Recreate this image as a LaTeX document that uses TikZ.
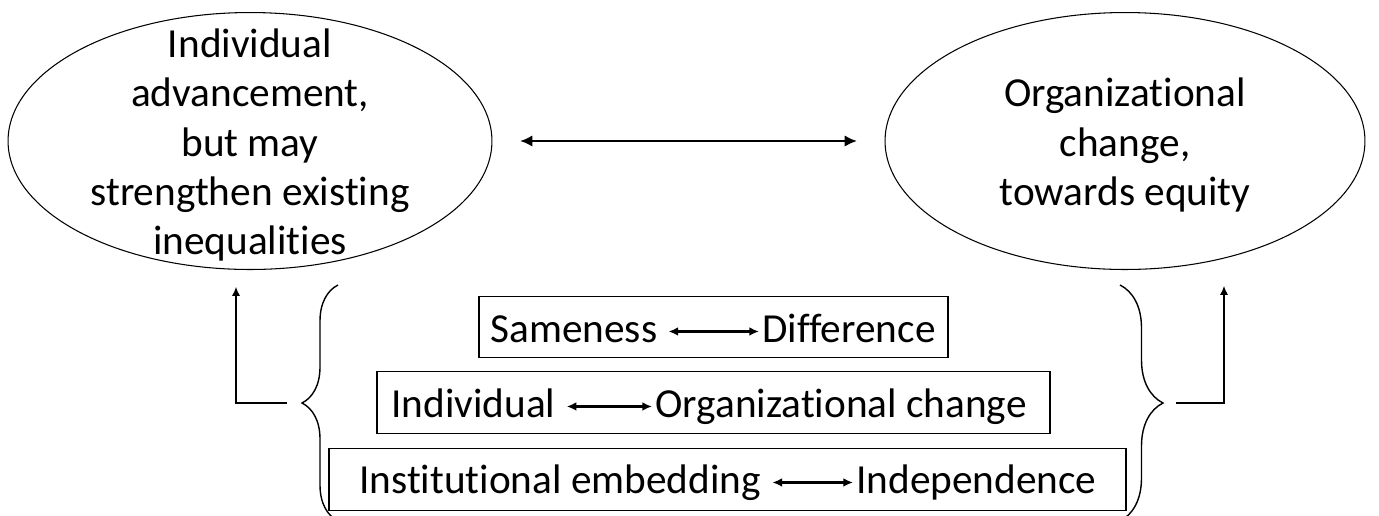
\documentclass[tikz,border=0pt]{standalone}
\usepackage{fontspec}
\setmainfont{Carlito}[Ligatures={NoCommon}]
\usetikzlibrary{arrows.meta,shapes.geometric,decorations.pathreplacing}
\begin{document}
\begin{tikzpicture}[x=0.02cm,y=-0.02cm,
    oval/.style={draw,ellipse,line width=0.6pt,inner sep=0pt,minimum width=#1,minimum height=5.14cm},
    txt/.style={align=center,inner sep=0pt,font=\fontsize{23.5}{28}\selectfont},
    bar/.style={draw,line width=0.7pt,minimum height=1.23cm},
    word/.style={inner sep=0pt,anchor=base west,text height=12pt,text depth=0pt,font=\fontsize{23.5}{28}\selectfont},
    pair/.style={{Latex[length=5.5pt,width=5pt]}-{Latex[length=5.5pt,width=5pt]},line width=1.3pt,shorten <=0.22cm,shorten >=0.06cm},
    up/.style={-{Latex[length=5pt,width=4.5pt]},line width=0.6pt},
    curly/.style={decorate,decoration={brace,amplitude=#1},line width=0.8pt}]
  \useasboundingbox (0,0) rectangle (1379,515);
  \node[oval=9.68cm] (adv) at (250,141) {};
  \node[oval=9.6cm] (org) at (1125,141) {};
  \node[txt] (advtext) at (250,145) {Individual\\advancement,\\but may\\strengthen existing\\inequalities};
  \node[txt] (orgtext) at (1125,145) {Organizational\\change,\\towards equity};
  \draw[{Latex[length=7pt,width=6.5pt]}-{Latex[length=7pt,width=6.5pt]},line width=1.4pt,
    shorten <=0.55cm,shorten >=0.55cm] (adv) -- (org);

  \node[bar,minimum width=9.38cm] (same-box) at (713.5,327) {};
  \node[bar,minimum width=13.46cm] (indiv-box) at (713.5,402.5) {};
  \node[bar,minimum width=15.94cm] (inst-box) at (727.5,479.5) {};
  \node[word] (same) at (490,342) {Sameness};
  \node[word] (diff) at (762,342) {Difference};
  \node[word] (indiv) at (391,417) {Individual};
  \node[word] (orgch) at (655,417) {Organizational change};
  \node[word] (inst) at (359,493) {Institutional embedding};
  \node[word] (indep) at (856,493) {Independence};
  \draw[pair] (same) -- (diff);
  \draw[pair] (indiv) -- (orgch);
  \draw[pair] (inst) -- (indep);

  \draw[curly=0.72cm] (338,521) -- (338,285);
  \draw[curly=0.86cm] (1120,285) -- (1120,521);
  \coordinate (ltip) at (287,403);
  \coordinate (lhead) at (236,287);
  \coordinate (rtip) at (1176,403);
  \coordinate (rhead) at (1224,286);
  \draw[up] (ltip) -| (lhead);
  \draw[up] (rtip) -| (rhead);
\end{tikzpicture}
\end{document}
